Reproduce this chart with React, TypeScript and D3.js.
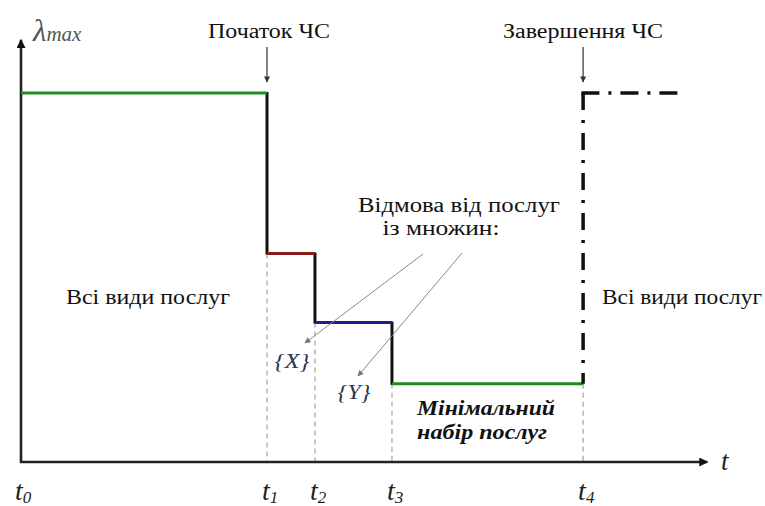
import React from "react";
import * as d3 from "d3";

// ---- data ----
const timeLabels = ["0", "1", "2", "3", "4"]; // subscripts of t
const timeValues = [0, 1, 1.195, 1.508, 2.285];
const recoveryEnd = 2.67;
const axisEndT = 2.79;
const levels = [1, 0.565, 0.378, 0.212]; // λmax level on each interval
const levelColors = ["#1f8a1f", "#8e1c1c", "#1c1c8e", "#1f8a1f"];
const axisTopL = 1.144;
const eventLabels = ["Початок ЧС", "Завершення ЧС"];
const areaLabel = "Всі види послуг";
const refusalLines = ["Відмова від послуг", "із множин:"];
const setLabels = ["{X}", "{Y}"];
const minimalLines = ["Мінімальний", "набір послуг"];

const W = 765;
const H = 506;
const FONT = '"Liberation Serif", "Times New Roman", "DejaVu Serif", serif';

type FTProps = {
  x: number;
  y: number;
  w: number;
  size?: number;
  italic?: boolean;
  bold?: boolean;
  fill?: string;
  children: React.ReactNode;
};

function FitText({ x, y, w, size = 20, italic, bold, fill = "#111", children }: FTProps) {
  return (
    <text
      x={x - w / 2}
      y={y}
      fontSize={size}
      fill={fill}
      fontStyle={italic ? "italic" : "normal"}
      fontWeight={bold ? "bold" : "normal"}
      textLength={w}
      lengthAdjust="spacingAndGlyphs"
      style={{ fontFamily: FONT }}
    >
      {children}
    </text>
  );
}

export default function App() {
  const x = d3.scaleLinear().domain([0, 1]).range([21, 267]);
  const y = d3.scaleLinear().domain([0, 1]).range([462, 93]);

  const x0 = x(0);
  const yBase = y(0);
  const t = timeValues.map((v) => x(v));

  const horiz = levels.map((lv, i) => ({
    x1: i === 0 ? x0 : t[i],
    x2: t[i + 1],
    y: y(lv),
    color: levelColors[i],
  }));
  const verts = [1, 2, 3].map((i) => ({
    x: t[i],
    y1: y(levels[i - 1]),
    y2: y(levels[i]),
  }));
  const dashedFrom = [1, 2, 3, 4].map((i) => ({
    x: t[i],
    y: y(levels[Math.min(i, levels.length - 1)]),
  }));

  const line = d3.line<[number, number]>();
  const ts = { fontFamily: FONT };

  return (
    <svg
      width={W}
      height={H}
      style={{ position: "absolute", left: 0, top: 0, background: "#fff", fontFamily: FONT }}
    >
      <defs>
        <marker id="axArrow" viewBox="0 0 10 10" refX="9" refY="5" markerWidth="10" markerHeight="9" markerUnits="userSpaceOnUse" orient="auto">
          <path d="M0,0 L10,5 L0,10 z" fill="#111" />
        </marker>
        <marker id="smArrow" viewBox="0 0 10 10" refX="9" refY="5" markerWidth="7" markerHeight="6" markerUnits="userSpaceOnUse" orient="auto">
          <path d="M0,0 L10,5 L0,10 z" fill="#333" />
        </marker>
        <marker id="grArrow" viewBox="0 0 10 10" refX="9" refY="5" markerWidth="7" markerHeight="6" markerUnits="userSpaceOnUse" orient="auto">
          <path d="M0,0 L10,5 L0,10 z" fill="#777" />
        </marker>
      </defs>

      {dashedFrom.map((d, i) => (
        <line key={"g" + i} x1={d.x} x2={d.x} y1={d.y} y2={yBase} stroke="#9a9a9a" strokeWidth={1.1} strokeDasharray="5 4" />
      ))}

      <line x1={x0} x2={x0} y1={yBase + 1} y2={y(axisTopL)} stroke="#222" strokeWidth={2.6} markerEnd="url(#axArrow)" />
      <line x1={x0 - 1} x2={x(axisEndT)} y1={yBase} y2={yBase} stroke="#222" strokeWidth={2.6} markerEnd="url(#axArrow)" />

      {verts.map((v, i) => (
        <line key={"v" + i} x1={v.x} x2={v.x} y1={v.y1 - 1} y2={v.y2 + 1} stroke="#111" strokeWidth={3} />
      ))}
      {horiz.map((h, i) => (
        <line key={"h" + i} x1={h.x1} x2={h.x2} y1={h.y} y2={h.y} stroke={h.color} strokeWidth={3} />
      ))}

      <path
        d={line([
          [t[4], y(levels[0])],
          [t[4], y(levels[3])],
        ]) || ""}
        stroke="#111"
        strokeWidth={3.5}
        fill="none"
        strokeDasharray="17 10 3 10"
      />
      <path
        d={line([
          [t[4] - 1.7, y(levels[0])],
          [x(recoveryEnd), y(levels[0])],
        ]) || ""}
        stroke="#111"
        strokeWidth={3.5}
        fill="none"
        strokeDasharray="18 9 3 9"
      />

      <FitText x={269} y={38} w={122}>{eventLabels[0]}</FitText>
      <FitText x={583} y={38} w={160}>{eventLabels[1]}</FitText>
      {[t[1], t[4]].map((ex, i) => (
        <line key={"e" + i} x1={ex} x2={ex} y1={47} y2={82} stroke="#333" strokeWidth={1.2} markerEnd="url(#smArrow)" />
      ))}

      <text x={33} y={41} fill="#555" fontStyle="italic" style={ts}>
        <tspan fontSize={31}>λ</tspan>
        <tspan fontSize={21}>max</tspan>
      </text>
      <text x={721} y={470} fill="#222" fontStyle="italic" fontSize={27} style={ts}>
        t
      </text>

      {t.map((tx, i) => (
        <text key={"t" + i} x={tx - (i === 0 ? 6 : 5)} y={500} fill="#222" fontStyle="italic" style={ts}>
          <tspan fontSize={28}>t</tspan>
          <tspan fontSize={17} dy={3}>{timeLabels[i]}</tspan>
        </text>
      ))}

      <FitText x={148} y={304} w={164}>{areaLabel}</FitText>
      <FitText x={682} y={304} w={160}>{areaLabel}</FitText>

      <FitText x={459} y={212} w={202}>{refusalLines[0]}</FitText>
      <FitText x={441} y={235} w={117}>{refusalLines[1]}</FitText>
      <line x1={423} y1={254} x2={305} y2={343} stroke="#888" strokeWidth={1} markerEnd="url(#grArrow)" />
      <line x1={462} y1={253} x2={358} y2={376} stroke="#888" strokeWidth={1} markerEnd="url(#grArrow)" />
      <FitText x={292} y={368} w={35} italic fill="#2a3550">{setLabels[0]}</FitText>
      <FitText x={354} y={399} w={33} italic fill="#2a3550">{setLabels[1]}</FitText>

      <FitText x={486} y={415} w={138} italic bold>{minimalLines[0]}</FitText>
      <FitText x={482} y={439} w={130} italic bold>{minimalLines[1]}</FitText>
    </svg>
  );
}
